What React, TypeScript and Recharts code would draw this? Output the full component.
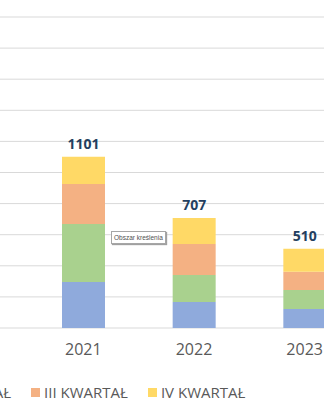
import { Bar, BarChart, CartesianGrid, LabelList, XAxis, YAxis } from 'recharts'

const years = ['2021', '2022', '2023']
const q1 = [296, 167, 122]
const q2 = [373, 174, 122]
const q3 = [257, 199, 118]
const q4 = [175, 167, 148]
const totals = [1101, 707, 510]
const yTicks = [0, 200, 400, 600, 800, 1000, 1200, 1400, 1600, 1800, 2000]

const series = [
  { key: 'q1', name: 'I KWARTAŁ', color: '#8faadc' },
  { key: 'q2', name: 'II KWARTAŁ', color: '#a9d18e' },
  { key: 'q3', name: 'III KWARTAŁ', color: '#f4b183' },
  { key: 'q4', name: 'IV KWARTAŁ', color: '#ffd966' },
]

const data = years.map((year, i) => ({
  year,
  q1: q1[i],
  q2: q2[i],
  q3: q3[i],
  q4: q4[i],
  total: totals[i],
}))

const font = '"Open Sans", "Liberation Sans", sans-serif'

export default function App() {
  return (
    <div
      style={{
        position: 'absolute',
        left: 0,
        top: 0,
        width: 324,
        height: 400,
        overflow: 'hidden',
        background: '#fff',
        fontFamily: font,
      }}
    >
      <BarChart width={360} height={400} data={data} margin={{ top: 17, right: 0, bottom: 0, left: 0 }}>
        <CartesianGrid vertical={false} stroke="#d9d9d9" />
        <YAxis hide domain={[0, 2000]} ticks={yTicks} />
        <XAxis
          dataKey="year"
          padding={{ left: 28, right: 0 }}
          height={72}
          interval={0}
          tickLine={false}
          axisLine={false}
          tickMargin={10}
          tick={{ fill: '#595959', fontSize: 16, fontFamily: font }}
        />
        {series.map((s, idx) => (
          <Bar key={s.key} dataKey={s.key} name={s.name} stackId="a" fill={s.color} barSize={43} isAnimationActive={false}>
            {idx === series.length - 1 && (
              <LabelList
                dataKey="total"
                position="top"
                offset={8}
                fill="#243f60"
                fontSize={14}
                fontWeight={700}
                fontFamily={font}
              />
            )}
          </Bar>
        ))}
      </BarChart>

      {/* legenda (wycentrowana na pełnym wykresie, stąd ujemne przesunięcie) */}
      <div
        style={{
          position: 'absolute',
          left: -190,
          top: 382,
          height: 20,
          display: 'flex',
          alignItems: 'center',
          gap: 20,
          whiteSpace: 'nowrap',
          fontSize: 15,
          color: '#595959',
        }}
      >
        {series.map((s) => (
          <div key={s.key} style={{ display: 'flex', alignItems: 'center', gap: 4 }}>
            <span style={{ width: 9, height: 9, background: s.color, display: 'inline-block' }} />
            <span style={{ lineHeight: '20px' }}>{s.name}</span>
          </div>
        ))}
      </div>

      {/* podpowiedź Excela nad obszarem kreślenia */}
      <div
        style={{
          position: 'absolute',
          left: 111,
          top: 231,
          padding: '0 2px',
          height: 11,
          lineHeight: '11px',
          fontSize: 6.5,
          fontFamily: '"Liberation Sans", sans-serif',
          color: '#505050',
          background: '#fff',
          border: '1px solid #a6a6a6',
          boxShadow: '1px 1px 1px #a0a0a0',
          whiteSpace: 'nowrap',
        }}
      >
        Obszar kreślenia
      </div>
    </div>
  )
}
